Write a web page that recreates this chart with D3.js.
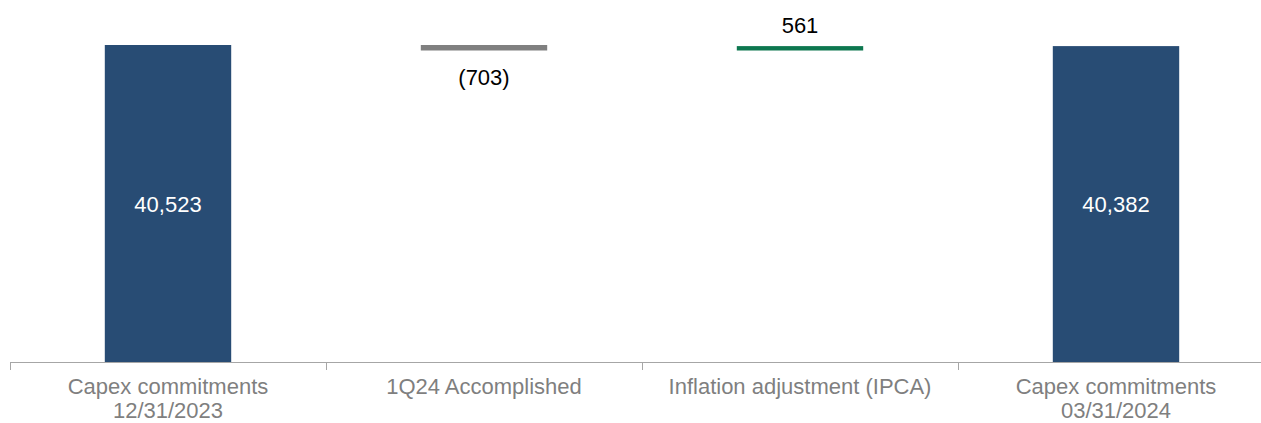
<!DOCTYPE html>
<html>
<head>
<meta charset="utf-8">
<script src="https://cdn.jsdelivr.net/npm/d3@7"></script>
<style>
  html, body { margin: 0; padding: 0; background: #ffffff; }
  svg { display: block; font-family: "Liberation Sans", Arial, sans-serif; }
</style>
</head>
<body>
<svg id="chart" width="1261" height="423"></svg>
<script>
// Capex commitments bridge (R$ million)
const categories = [
  ["Capex commitments", "12/31/2023"],
  ["1Q24 Accomplished"],
  ["Inflation adjustment (IPCA)"],
  ["Capex commitments", "03/31/2024"]
];
const values = [40523, -703, 561, 40382];
const kinds = ["total", "delta", "delta", "total"];
const valueLabels = ["40,523", "(703)", "561", "40,382"];

const colors = { total: "#284c74", down: "#808080", up: "#0d774f" };

const svg = d3.select("#chart");
const baseY = 362;
const fontSize = 22;

// Waterfall segments: totals start at zero, deltas float from the running sum
let running = 0;
const segs = values.map((v, i) => {
  let y0, y1;
  if (kinds[i] === "total") { y0 = 0; y1 = v; running = v; }
  else { y0 = running; y1 = running + v; running = y1; }
  return { i, v, lo: Math.min(y0, y1), hi: Math.max(y0, y1), kind: kinds[i] };
});

const x = d3.scaleBand()
  .domain(d3.range(categories.length))
  .range([10, 1274])
  .paddingInner(0.6)
  .paddingOuter(0.3);

const y = d3.scaleLinear()
  .domain([0, 40523])
  .range([baseY, 45]);

// Bars
svg.append("g").selectAll("rect")
  .data(segs)
  .join("rect")
  .attr("x", d => x(d.i))
  .attr("width", x.bandwidth())
  .attr("y", d => y(d.hi))
  .attr("height", d => y(d.lo) - y(d.hi))
  .attr("fill", d => d.kind === "total" ? colors.total : (d.v < 0 ? colors.down : colors.up));

// Axis line and tick marks between categories
const step = x.step();
const axis = svg.append("g");
axis.append("line")
  .attr("x1", 10).attr("x2", 1261)
  .attr("y1", baseY + 0.5).attr("y2", baseY + 0.5)
  .attr("stroke", "#a6a6a6").attr("stroke-width", 1);
const tickXs = d3.range(categories.length + 1).map(k => 10 + k * step);
axis.selectAll("line.tick")
  .data(tickXs)
  .join("line")
  .attr("class", "tick")
  .attr("x1", d => Math.round(d) + 0.5).attr("x2", d => Math.round(d) + 0.5)
  .attr("y1", baseY).attr("y2", baseY + 8)
  .attr("stroke", "#a6a6a6").attr("stroke-width", 1);

// Category labels
const catG = svg.append("g").attr("fill", "#7f7f7f").attr("font-size", fontSize).attr("text-anchor", "middle");
categories.forEach((lines, i) => {
  const cx = x(i) + x.bandwidth() / 2;
  const t = catG.append("text").attr("x", cx).attr("y", 394);
  lines.forEach((ln, k) => {
    t.append("tspan").attr("x", cx).attr("dy", k === 0 ? 0 : 24).text(ln);
  });
});

// Value labels
const lab = svg.append("g").attr("font-size", fontSize).attr("text-anchor", "middle");
segs.forEach(d => {
  const cx = x(d.i) + x.bandwidth() / 2;
  let ty, fill;
  if (d.kind === "total") { ty = (y(d.hi) + y(0)) / 2 + 8; fill = "#ffffff"; }
  else if (d.v < 0) { ty = y(d.lo) + 34.5; fill = "#000000"; }
  else { ty = y(d.hi) - 13; fill = "#000000"; }
  lab.append("text").attr("x", cx).attr("y", ty).attr("fill", fill).text(valueLabels[d.i]);
});
</script>
</body>
</html>
